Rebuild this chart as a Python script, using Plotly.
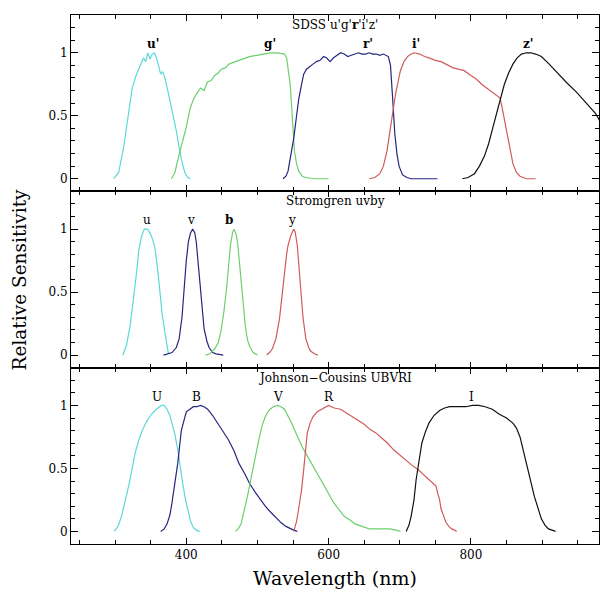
import plotly.graph_objects as go
from plotly.subplots import make_subplots

# ---------------- SDSS u'g'r'i'z' ----------------
sdss_u_wl = [298, 305, 312, 318, 324, 330, 336, 340, 343, 346, 349, 352, 355, 358, 361, 364, 367, 370, 374, 378, 382, 386, 390, 394, 398, 402, 406]
sdss_u_s = [0, 0.05, 0.25, 0.5, 0.72, 0.83, 0.9, 0.96, 0.93, 1.0, 0.95, 0.99, 1.0, 0.96, 0.9, 0.83, 0.85, 0.8, 0.7, 0.6, 0.5, 0.38, 0.25, 0.13, 0.05, 0.01, 0]

sdss_g_wl = [379, 384, 389, 395, 400, 405, 410, 415, 420, 425, 430, 435, 440, 445, 449, 455, 460, 469, 479, 489, 499, 509, 518, 528, 538, 541, 543, 546, 548, 550, 552, 555, 558, 563, 568, 580, 600]
sdss_g_s = [0, 0.05, 0.17, 0.3, 0.41, 0.55, 0.63, 0.68, 0.72, 0.7, 0.77, 0.78, 0.82, 0.84, 0.87, 0.88, 0.91, 0.93, 0.95, 0.97, 0.98, 0.99, 1.0, 1.0, 0.99, 0.96, 0.89, 0.75, 0.58, 0.4, 0.22, 0.12, 0.06, 0.02, 0.01, 0, 0]

sdss_r_wl = [536, 540, 543, 547, 551, 555, 558, 562, 565, 569, 573, 578, 583, 588, 593, 597, 602, 607, 612, 617, 622, 627, 632, 637, 642, 647, 652, 657, 662, 667, 672, 677, 684, 687, 689, 691, 693, 696, 699, 704, 710, 716, 735, 753]
sdss_r_s = [0, 0.02, 0.06, 0.18, 0.32, 0.5, 0.63, 0.75, 0.83, 0.87, 0.89, 0.91, 0.93, 0.94, 0.97, 0.96, 0.93, 0.96, 0.98, 1.0, 0.99, 0.97, 0.98, 0.99, 1.0, 0.99, 0.99, 1.0, 0.99, 0.99, 0.98, 0.99, 0.97, 0.9, 0.75, 0.55, 0.36, 0.2, 0.1, 0.03, 0.01, 0, 0, 0]

sdss_i_wl = [657, 665, 672, 677, 682, 686, 690, 694, 698, 701, 706, 711, 716, 721, 728, 735, 741, 750, 758, 765, 775, 782, 790, 800, 808, 815, 822, 830, 837, 841, 844, 848, 852, 856, 859, 864, 869, 878, 891]
sdss_i_s = [0, 0.01, 0.04, 0.1, 0.22, 0.38, 0.55, 0.67, 0.78, 0.86, 0.93, 0.97, 0.99, 1.0, 0.99, 0.97, 0.96, 0.94, 0.93, 0.91, 0.88, 0.87, 0.86, 0.82, 0.79, 0.75, 0.72, 0.69, 0.66, 0.64, 0.56, 0.44, 0.3, 0.2, 0.12, 0.05, 0.02, 0, 0]

sdss_z_wl = [788, 796, 805, 812, 819, 825, 831, 837, 842, 847, 853, 859, 865, 871, 878, 884, 891, 899, 910, 923, 935, 948, 958, 968, 975, 981, 990]
sdss_z_s = [0, 0.01, 0.04, 0.1, 0.18, 0.28, 0.41, 0.54, 0.65, 0.75, 0.84, 0.91, 0.96, 0.99, 1.0, 1.0, 0.99, 0.97, 0.91, 0.83, 0.76, 0.69, 0.63, 0.57, 0.52, 0.46, 0.42]

# ---------------- Stromgren uvby ----------------
str_u_wl = [311, 316, 321, 325, 328, 331, 333, 337, 341, 345, 348, 352, 356, 360, 363, 366, 370, 373, 375]
str_u_s = [0, 0.08, 0.23, 0.4, 0.55, 0.7, 0.82, 0.94, 1.0, 1.0, 0.98, 0.93, 0.85, 0.67, 0.5, 0.33, 0.18, 0.07, 0.01]

str_v_wl = [368, 375, 380, 386, 390, 394, 397, 400, 403, 406, 409, 412, 414, 417, 419, 422, 425, 429, 432, 437, 442, 452]
str_v_s = [0, 0.01, 0.02, 0.06, 0.13, 0.3, 0.55, 0.75, 0.9, 0.97, 1.0, 0.97, 0.9, 0.72, 0.55, 0.36, 0.21, 0.11, 0.06, 0.02, 0.01, 0]

str_b_wl = [427, 433, 440, 445, 449, 453, 457, 460, 462, 465, 467, 470, 472, 474, 477, 480, 483, 486, 489, 494, 500]
str_b_s = [0, 0.01, 0.05, 0.1, 0.2, 0.35, 0.55, 0.75, 0.87, 0.97, 1.0, 0.96, 0.9, 0.78, 0.6, 0.4, 0.23, 0.12, 0.07, 0.02, 0]

str_y_wl = [513, 517, 521, 526, 531, 535, 538, 541, 543, 547, 551, 553, 556, 558, 561, 564, 568, 572, 575, 580, 585]
str_y_s = [0, 0.02, 0.05, 0.13, 0.29, 0.5, 0.69, 0.8, 0.87, 0.95, 1.0, 0.98, 0.87, 0.72, 0.5, 0.3, 0.13, 0.06, 0.03, 0.01, 0]

# ---------------- Johnson-Cousins UBVRI ----------------
jc_U_wl = [299, 304, 309, 314, 319, 324, 328, 333, 338, 344, 351, 358, 365, 369, 373, 377, 380, 384, 388, 391, 395, 399, 403, 406, 410, 414, 419]
jc_U_s = [0, 0.04, 0.12, 0.23, 0.36, 0.5, 0.62, 0.72, 0.8, 0.87, 0.93, 0.97, 1.0, 1.0, 0.97, 0.92, 0.86, 0.77, 0.65, 0.52, 0.38, 0.25, 0.15, 0.08, 0.03, 0.01, 0]

jc_B_wl = [364, 369, 373, 377, 380, 384, 388, 393, 397, 400, 405, 410, 415, 420, 425, 430, 437, 444, 452, 459, 467, 474, 482, 489, 497, 504, 511, 519, 526, 533, 540, 546, 551, 556]
jc_B_s = [0, 0.02, 0.06, 0.13, 0.23, 0.4, 0.54, 0.8, 0.9, 0.95, 0.97, 0.99, 0.99, 1.0, 0.99, 0.97, 0.92, 0.86, 0.8, 0.73, 0.64, 0.54, 0.46, 0.38, 0.31, 0.25, 0.2, 0.15, 0.11, 0.07, 0.04, 0.02, 0.01, 0]

jc_V_wl = [469, 473, 477, 481, 486, 491, 496, 501, 506, 511, 516, 522, 528, 533, 538, 543, 548, 555, 563, 570, 578, 585, 593, 600, 607, 615, 622, 630, 637, 647, 657, 670, 686, 695, 701]
jc_V_s = [0, 0.02, 0.06, 0.15, 0.28, 0.42, 0.57, 0.7, 0.83, 0.91, 0.96, 0.99, 1.0, 0.99, 0.97, 0.92, 0.86, 0.77, 0.67, 0.6, 0.52, 0.44, 0.36, 0.29, 0.23, 0.17, 0.12, 0.09, 0.06, 0.04, 0.02, 0.02, 0.02, 0.01, 0]

jc_R_wl = [551, 555, 558, 562, 565, 568, 570, 574, 578, 584, 590, 595, 600, 608, 617, 625, 633, 642, 650, 658, 667, 675, 683, 691, 699, 708, 716, 726, 736, 742, 748, 751, 753, 756, 758, 762, 765, 769, 773, 777, 780]
jc_R_s = [0, 0.08, 0.18, 0.33, 0.49, 0.66, 0.78, 0.86, 0.91, 0.95, 0.97, 0.99, 1.0, 0.98, 0.97, 0.94, 0.91, 0.88, 0.85, 0.81, 0.78, 0.74, 0.7, 0.65, 0.61, 0.57, 0.53, 0.49, 0.44, 0.41, 0.38, 0.36, 0.31, 0.25, 0.18, 0.12, 0.07, 0.04, 0.02, 0.01, 0]

jc_I_wl = [709, 713, 716, 720, 723, 727, 731, 736, 741, 748, 756, 763, 770, 778, 785, 793, 802, 811, 820, 830, 840, 850, 859, 864, 869, 874, 879, 884, 889, 894, 899, 904, 909, 914, 919]
jc_I_s = [0, 0.05, 0.12, 0.25, 0.41, 0.57, 0.7, 0.79, 0.86, 0.92, 0.96, 0.98, 0.99, 0.99, 0.99, 0.99, 1.0, 1.0, 0.99, 0.97, 0.93, 0.9, 0.86, 0.82, 0.75, 0.64, 0.52, 0.4, 0.28, 0.18, 0.1, 0.05, 0.02, 0.01, 0]

# ---------------- labels ----------------
panel_titles = ["SDSS u'g'<b>r</b>'i'z'", "Stromgren uvby", "Johnson\u2212Cousins UBVRI"]
sdss_names = ["<b>u'</b>", "<b>g'</b>", "<b>r'</b>", "<b>i'</b>", "<b>z'</b>"]
sdss_label_x = [353, 517, 655, 723, 881]
str_names = ["u", "v", "<b>b</b>", "y"]
str_label_x = [345, 406, 460, 549]
jc_names = ["U", "B", "V", "R", "I"]
jc_label_x = [359, 415, 529, 600, 801]
y_tickvals = [0, 0.5, 1]
y_ticktext = ["0", "0.5", "1"]
x_tickvals = [400, 600, 800]
x_ticktext = ["400", "600", "800"]

CYAN = "#5cd8d8"
GREEN = "#6ccf6c"
NAVY = "#262680"
RED = "#d05a5a"
BLACK = "#111111"

panels = [
    [(sdss_u_wl, sdss_u_s, CYAN), (sdss_g_wl, sdss_g_s, GREEN), (sdss_r_wl, sdss_r_s, NAVY),
     (sdss_i_wl, sdss_i_s, RED), (sdss_z_wl, sdss_z_s, BLACK)],
    [(str_u_wl, str_u_s, CYAN), (str_v_wl, str_v_s, NAVY), (str_b_wl, str_b_s, GREEN),
     (str_y_wl, str_y_s, RED)],
    [(jc_U_wl, jc_U_s, CYAN), (jc_B_wl, jc_B_s, NAVY), (jc_V_wl, jc_V_s, GREEN),
     (jc_R_wl, jc_R_s, RED), (jc_I_wl, jc_I_s, BLACK)],
]
labels = [(sdss_names, sdss_label_x), (str_names, str_label_x), (jc_names, jc_label_x)]

FONT = "DejaVu Serif"

fig = make_subplots(rows=3, cols=1, shared_xaxes=True, vertical_spacing=0)

for i, curves in enumerate(panels):
    row = i + 1
    for wl, s, col in curves:
        fig.add_trace(go.Scatter(x=wl, y=s, mode="lines", line=dict(color=col, width=1.2),
                                 showlegend=False, hoverinfo="skip"), row=row, col=1)
    xref = "x" if row == 1 else f"x{row}"
    yref = "y" if row == 1 else f"y{row}"
    fig.add_annotation(x=(238 + 980) / 2, y=1.22, xref=xref, yref=yref, text=panel_titles[i],
                       showarrow=False, font=dict(family=FONT, size=12, color="black"))
    names, xs = labels[i]
    for n, xv in zip(names, xs):
        fig.add_annotation(x=xv, y=1.07, xref=xref, yref=yref, text=n, showarrow=False,
                           font=dict(family=FONT, size=12, color="black"))

for row in (1, 2, 3):
    fig.update_yaxes(range=[-0.1, 1.3], tickvals=y_tickvals, ticktext=y_ticktext,
                     ticks="inside", ticklen=7, tickcolor="black", tickwidth=1,
                     minor=dict(ticks="inside", dtick=0.1, tick0=0, ticklen=4, tickcolor="black"),
                     showline=True, linecolor="black", linewidth=1, mirror="allticks",
                     showgrid=False, zeroline=False,
                     tickfont=dict(family=FONT, size=12, color="black"), row=row, col=1)
    fig.update_xaxes(range=[238, 980], tickvals=x_tickvals, ticktext=x_ticktext,
                     ticks="inside", ticklen=6, tickcolor="black", tickwidth=1,
                     minor=dict(ticks="inside", dtick=50, tick0=0, ticklen=4, tickcolor="black"),
                     showline=True, linecolor="black", linewidth=1, mirror="allticks",
                     showgrid=False, zeroline=False,
                     tickfont=dict(family=FONT, size=12, color="black"), row=row, col=1)

fig.update_xaxes(showticklabels=True, row=3, col=1)

fig.add_annotation(x=-0.0966, y=0.5, xref="paper", yref="paper", text="Relative Sensitivity",
                   textangle=-90, showarrow=False, xanchor="center", yanchor="middle",
                   font=dict(family=FONT, size=18.5, color="black"))
fig.add_annotation(x=0.5, y=-0.0643, xref="paper", yref="paper", text="Wavelength (nm)",
                   showarrow=False, xanchor="center", yanchor="middle",
                   font=dict(family=FONT, size=19, color="black"))

# The page body keeps the browser's 8px margin, so the figure is sized to fit the window.
fig.update_layout(width=602, height=587, margin=dict(l=63, r=11, t=7, b=51),
                  paper_bgcolor="white", plot_bgcolor="white")

fig.write_html("out.html")
